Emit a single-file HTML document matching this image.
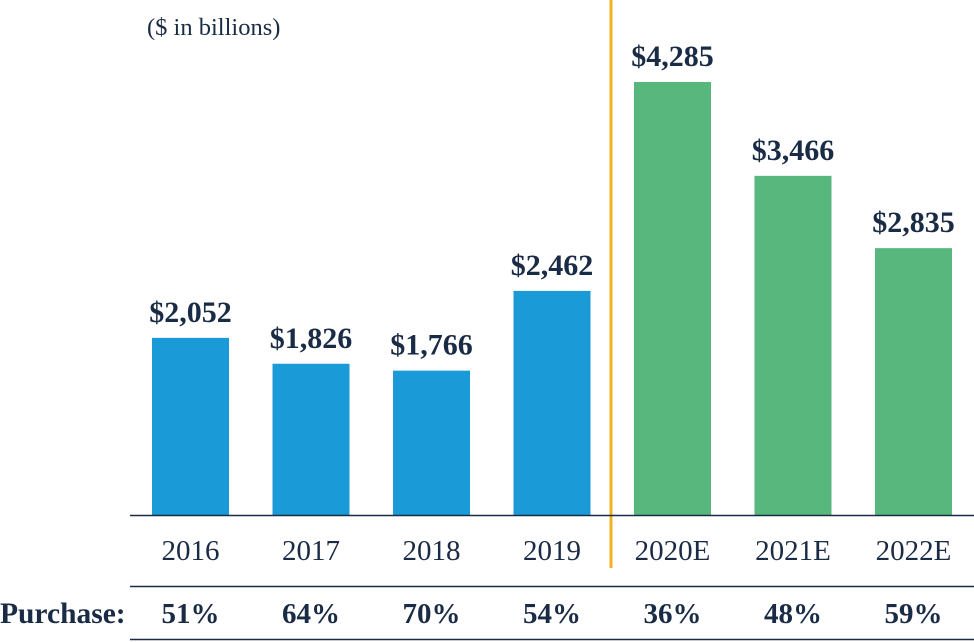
<!DOCTYPE html>
<html><head><meta charset="utf-8"><style>
body{margin:0;background:#fff;}
svg{display:block;font-family:"Liberation Serif",serif;}
</style></head><body>
<svg id="chart" width="974" height="642">
<text x="147" y="35" font-size="24.5" fill="#1a2b45">($ in billions)</text>
<line x1="611" y1="0" x2="611" y2="568" stroke="#f0b323" stroke-width="3"/>
<g id="bars"></g>
<line x1="130" y1="515.5" x2="974" y2="515.5" stroke="#1a2b45" stroke-width="1.5"/>
<line x1="130" y1="586.5" x2="974" y2="586.5" stroke="#1a2b45" stroke-width="1.5"/>
<line x1="130" y1="639.5" x2="974" y2="639.5" stroke="#1a2b45" stroke-width="1.5"/>
<text x="0" y="623" font-size="29.5" font-weight="bold" fill="#1a2b45">Purchase:</text>
</svg>
<script>
const categories=["2016","2017","2018","2019","2020E","2021E","2022E"];
const values=[2052,1826,1766,2462,4285,3466,2835];
const valueLabels=["$2,052","$1,826","$1,766","$2,462","$4,285","$3,466","$2,835"];
const purchase=["51%","64%","70%","54%","36%","48%","59%"];
const isEstimate=[false,false,false,false,true,true,true];
const ns="http://www.w3.org/2000/svg";
const g=document.getElementById("bars");
const base=515, vmin=506, scale=433/(4285-506);
function y(v){return base-(v-vmin)*scale;}
function xc(i){return 190.5+i*120.5;}
const bw=77;
function mk(tag,attrs,txt){const e=document.createElementNS(ns,tag);for(const k in attrs)e.setAttribute(k,attrs[k]);if(txt!==undefined)e.textContent=txt;g.appendChild(e);return e;}
values.forEach((v,i)=>{
  const r=mk("rect",{x:xc(i)-bw/2,y:y(v),width:bw,height:base-y(v),fill:isEstimate[i]?"#57b77d":"#1a9ad6"});
  
  
  const t=mk("text",{x:xc(i),y:y(v)-16,"text-anchor":"middle","font-size":"30","font-weight":"bold",fill:"#1a2b45"},valueLabels[i]);
  
  
  const c=mk("text",{x:xc(i),y:560,"text-anchor":"middle","font-size":"29","fill":"#1a2b45"},categories[i]);
  
  
  const p=mk("text",{x:xc(i),y:623,"text-anchor":"middle","font-size":"29","font-weight":"bold",fill:"#1a2b45"},purchase[i]);
  
  
});
</script>
</body></html>
